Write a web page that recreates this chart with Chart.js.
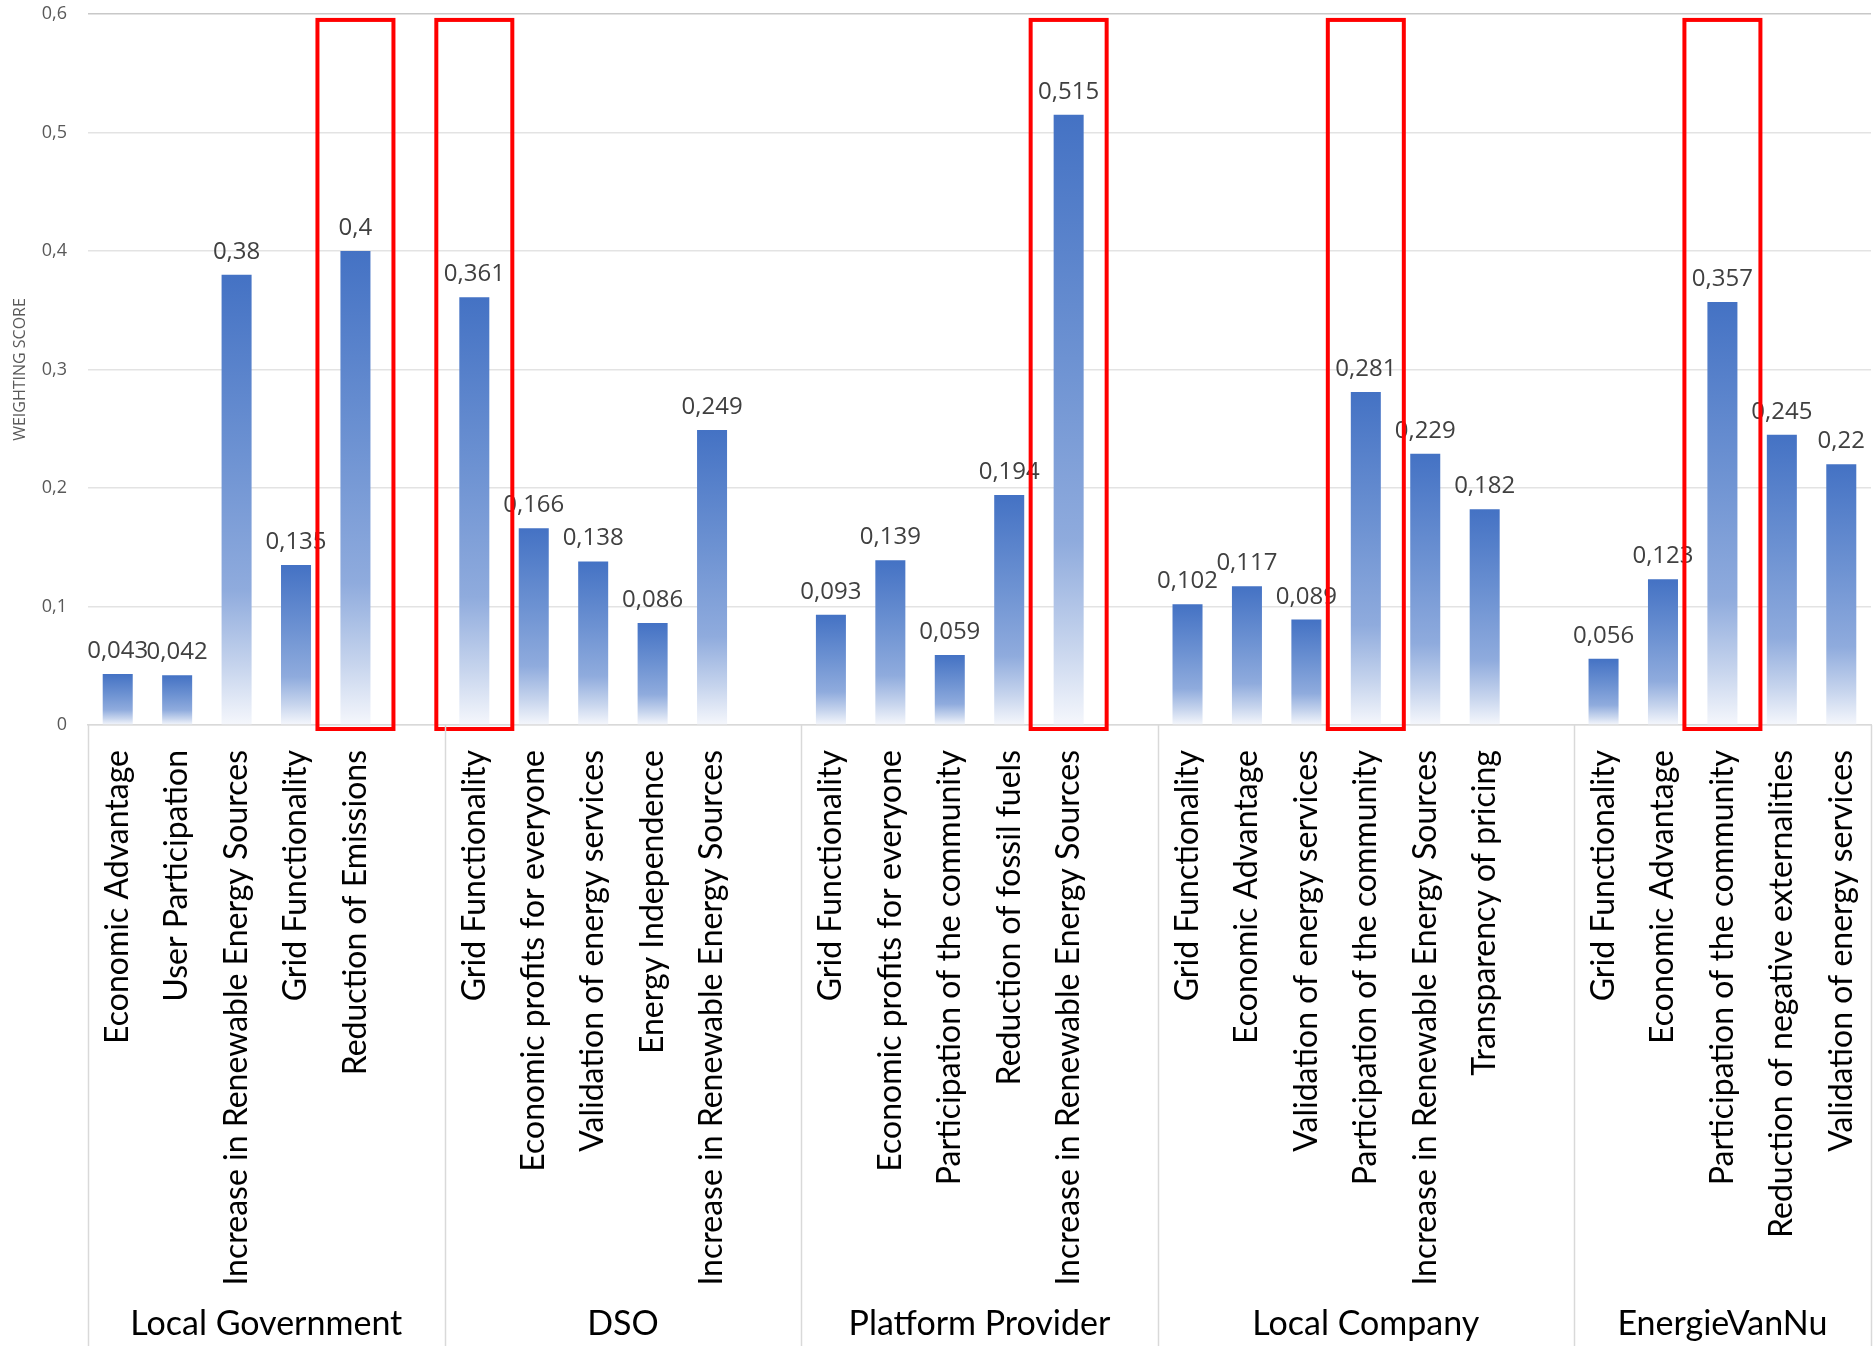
<!DOCTYPE html>
<html>
<head>
<meta charset="utf-8">
<script src="https://cdn.jsdelivr.net/npm/chart.js@4.4.1/dist/chart.umd.min.js"></script>
<style>
  html, body { margin: 0; padding: 0; background: #fff; }
  #wrap { width: 1873px; height: 1354px; }
</style>
</head>
<body>
<div id="wrap"><canvas id="chart"></canvas></div>
<script>
// stakeholder groups, each with its own criteria and weighting scores
const groups = ['Local Government', 'DSO', 'Platform Provider', 'Local Company', 'EnergieVanNu'];

const govCriteria = ['Economic Advantage', 'User Participation', 'Increase in Renewable Energy Sources', 'Grid Functionality', 'Reduction of Emissions'];
const govScores = [0.043, 0.042, 0.38, 0.135, 0.4];

const dsoCriteria = ['Grid Functionality', 'Economic profits for everyone', 'Validation of energy services', 'Energy Independence', 'Increase in Renewable Energy Sources'];
const dsoScores = [0.361, 0.166, 0.138, 0.086, 0.249];

const platformCriteria = ['Grid Functionality', 'Economic profits for everyone', 'Participation of the community', 'Reduction of fossil fuels', 'Increase in Renewable Energy Sources'];
const platformScores = [0.093, 0.139, 0.059, 0.194, 0.515];

const companyCriteria = ['Grid Functionality', 'Economic Advantage', 'Validation of energy services', 'Participation of the community', 'Increase in Renewable Energy Sources', 'Transparency of pricing'];
const companyScores = [0.102, 0.117, 0.089, 0.281, 0.229, 0.182];

const evnCriteria = ['Grid Functionality', 'Economic Advantage', 'Participation of the community', 'Reduction of negative externalities', 'Validation of energy services'];
const evnScores = [0.056, 0.123, 0.357, 0.245, 0.22];

// blank category rows after each group (as in the source sheet)
const blankRows = [1, 1, 1, 1, 0];

// top criterion of each group (boxed in red)
const highlighted = ['Reduction of Emissions', 'Grid Functionality', 'Increase in Renewable Energy Sources', 'Participation of the community', 'Participation of the community'];

const yTickStep = 0.1;
const yMax = 0.6;

const groupCriteria = [govCriteria, dsoCriteria, platformCriteria, companyCriteria, evnCriteria];
const groupScores = [govScores, dsoScores, platformScores, companyScores, evnScores];

// flatten into one category axis
const labels = [];
const scores = [];
const groupStart = [];
const boxed = [];
groupCriteria.forEach((crit, g) => {
  groupStart.push(labels.length);
  crit.forEach((c, i) => {
    if (c === highlighted[g]) boxed.push(labels.length);
    labels.push(c);
    scores.push(groupScores[g][i]);
  });
  for (let k = 0; k < blankRows[g]; k++) { labels.push(''); scores.push(null); }
});
groupStart.push(labels.length);

const comma = v => String(v).replace('.', ',');

function barFill(ctx) {
  const chart = ctx.chart;
  if (!chart.chartArea || !ctx.parsed) return '#4472C4';
  const y = chart.scales.y;
  const top = y.getPixelForValue(ctx.parsed.y);
  const bottom = y.getPixelForValue(0);
  if (!isFinite(top) || top >= bottom) return '#4472C4';
  const g = chart.ctx.createLinearGradient(0, top, 0, bottom);
  g.addColorStop(0, '#4472C4');
  g.addColorStop(0.4, '#6d92d2');
  g.addColorStop(0.7, '#8fabdd');
  g.addColorStop(0.87, '#c6d4ed');
  g.addColorStop(1, '#f5f7fc');
  return g;
}

const extras = {
  id: 'extras',
  afterDatasetsDraw(chart) {
    const c = chart.ctx;
    const x = chart.scales.x, y = chart.scales.y;
    const meta = chart.getDatasetMeta(0);
    c.save();
    // value labels
    c.font = '24px "Open Sans"';
    c.fillStyle = '#404040';
    c.textAlign = 'center';
    c.textBaseline = 'alphabetic';
    meta.data.forEach((bar, i) => {
      if (scores[i] == null) return;
      c.fillText(comma(scores[i]), bar.x, bar.y - 16);
    });
    // red boxes
    c.strokeStyle = '#ff0000';
    c.lineWidth = 4;
    boxed.forEach(i => {
      const cx = x.getPixelForValue(i);
      const top = y.getPixelForValue(0.595);
      const bottom = y.getPixelForValue(0) + 4;
      c.strokeRect(cx - 38, top, 76, bottom - top);
    });
    c.restore();
  },
  afterDraw(chart) {
    const c = chart.ctx;
    const x = chart.scales.x;
    const half = (x.getPixelForValue(1) - x.getPixelForValue(0)) / 2;
    c.save();
    c.strokeStyle = '#d9d9d9';
    c.lineWidth = 1.5;
    groupStart.forEach(s => {
      const px = Math.min(Math.round(x.getPixelForValue(s) - half), chart.width - 2) + 0.5;
      c.beginPath();
      c.moveTo(px, x.top);
      c.lineTo(px, chart.height - 8);
      c.stroke();
    });
    c.font = '34px Lato';
    c.fillStyle = '#000';
    c.textAlign = 'center';
    c.textBaseline = 'middle';
    groups.forEach((name, g) => {
      const a = x.getPixelForValue(groupStart[g]) - half;
      const b = x.getPixelForValue(groupStart[g + 1]) - half;
      c.fillText(name, (a + b) / 2, 1324);
    });
    c.restore();
  }
};

new Chart(document.getElementById('chart'), {
  type: 'bar',
  data: {
    labels: labels,
    datasets: [{
      label: 'Weighting score',
      data: scores,
      backgroundColor: barFill,
      borderWidth: 0,
      barPercentage: 0.505,
      categoryPercentage: 1
    }]
  },
  options: {
    responsive: true,
    maintainAspectRatio: false,
    animation: false,
    layout: { padding: { top: 14, right: 2, left: 0, bottom: 0 } },
    plugins: { legend: { display: false }, tooltip: { enabled: false } },
    scales: {
      x: {
        grid: { display: false, drawTicks: false },
        border: { display: true, color: '#d9d9d9', width: 1.5 },
        ticks: {
          autoSkip: false,
          maxRotation: 90,
          minRotation: 90,
          padding: 25,
          color: '#000',
          font: { family: 'Lato', size: 32 }
        },
        afterFit: s => { s.height = 629; s.paddingLeft = 0; s.paddingRight = 0; }
      },
      y: {
        min: 0,
        max: yMax,
        grid: {
          color: ctx => (ctx.tick && ctx.tick.value >= yMax - 1e-9) ? '#c8c8c8' : '#e3e3e3',
          lineWidth: 1.5,
          drawTicks: false
        },
        border: { display: false },
        ticks: {
          stepSize: yTickStep,
          padding: 21,
          color: '#595959',
          font: { family: 'Open Sans', size: 18 },
          callback: v => v === 0 ? '0' : v.toFixed(1).replace('.', ',')
        },
        title: {
          display: true,
          text: 'WEIGHTING SCORE',
          color: '#595959',
          font: { family: 'Open Sans', size: 16 },
          padding: { top: 11, bottom: 0 }
        },
        afterFit: s => { s.width = 88; s.paddingTop = 0; s.paddingBottom = 0; }
      }
    }
  },
  plugins: [extras]
});
</script>
</body>
</html>
